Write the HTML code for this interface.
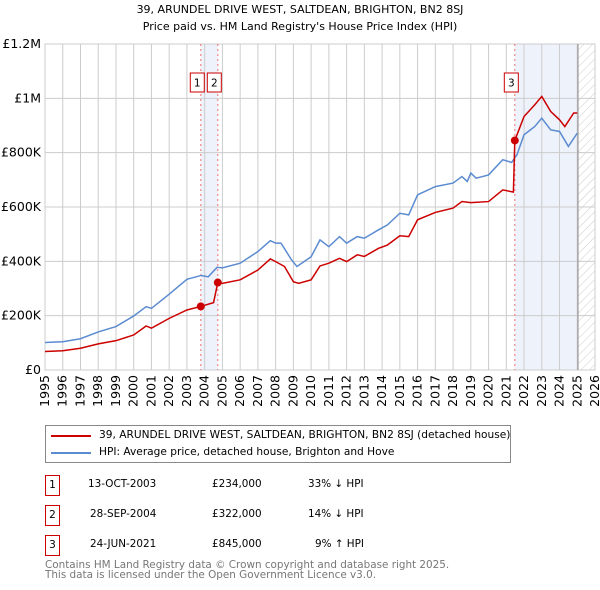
<!DOCTYPE html>
<html><head><meta charset="utf-8"><style>
body{margin:0;background:#fff;font-family:"DejaVu Sans","Liberation Sans",sans-serif;}
#wrap{position:relative;width:600px;height:590px;overflow:hidden;}
.t{position:absolute;font-size:10.4px;color:#000;white-space:nowrap;}
.box{position:absolute;width:13px;height:19px;border:1px solid #c00;font-size:10.5px;text-align:center;line-height:19px;}
</style></head><body><div id="wrap">
<div class="t" style="left:0;width:600px;text-align:center;top:3px;font-size:11px">39, ARUNDEL DRIVE WEST, SALTDEAN, BRIGHTON, BN2 8SJ</div>
<div class="t" style="left:0;width:600px;text-align:center;top:20px;font-size:11px">Price paid vs. HM Land Registry's House Price Index (HPI)</div>
<svg id="svg" width="600" height="420" style="position:absolute;left:0;top:0"></svg>
<div style="position:absolute;left:45px;top:425px;width:464px;height:36px;border:1px solid #888;">
 <div><div style="position:absolute;left:5px;top:9px;width:40px;height:2px;background:#c00"></div><div class="t" style="left:53px;top:3px;font-size:10.6px">39, ARUNDEL DRIVE WEST, SALTDEAN, BRIGHTON, BN2 8SJ (detached house)</div></div>
 <div><div style="position:absolute;left:5px;top:26px;width:40px;height:2px;background:#5b8bd0"></div><div class="t" style="left:53px;top:20px;font-size:10.6px">HPI: Average price, detached house, Brighton and Hove</div></div>
</div>
<div><div class="box" style="left:45px;top:475px">1</div><div class="t" style="left:88px;top:478px">13-OCT-2003</div><div class="t" style="left:212px;top:478px">£234,000</div><div class="t" style="left:308px;top:478px">33% ↓ HPI</div></div>
<div><div class="box" style="left:45px;top:505px">2</div><div class="t" style="left:90px;top:508px">28-SEP-2004</div><div class="t" style="left:212px;top:508px">£322,000</div><div class="t" style="left:308px;top:508px">14% ↓ HPI</div></div>
<div><div class="box" style="left:45px;top:535px">3</div><div class="t" style="left:90px;top:538px">24-JUN-2021</div><div class="t" style="left:212px;top:538px">£845,000</div><div class="t" style="left:315px;top:538px">9% ↑ HPI</div></div>
<div class="t" style="left:45px;top:560px;color:#777;font-size:10.4px;line-height:10px">Contains HM Land Registry data © Crown copyright and database right 2025.<br>This data is licensed under the Open Government Licence v3.0.</div>
</div>
<script>
const hpiYears=[1995,1996,1997,1998,1999,2000,2000.7,2001,2002,2003,2003.8,2004.2,2004.7,2005,2006,2007,2007.7,2008,2008.3,2008.9,2009.2,2010,2010.5,2011,2011.6,2012,2012.6,2013,2013.8,2014.3,2015,2015.5,2016,2017,2018,2018.5,2018.8,2019,2019.3,2020,2020.8,2021.3,2021.6,2022,2022.6,2023,2023.5,2024,2024.5,2025];
const hpiValues=[101,104,115,140,160,199,233,227,279,334,348,343,378,376,393,436,476,467,467,405,381,417,479,454,491,467,491,485,516,534,577,571,645,675,688,712,694,725,706,718,774,764,792,866,896,927,884,878,823,872];
const redYears=[1995,1996,1997,1998,1999,2000,2000.7,2001,2002,2003,2003.78,2004.5,2004.74,2005,2006,2007,2007.7,2008,2008.5,2009,2009.3,2010,2010.5,2011,2011.6,2012,2012.6,2013,2013.8,2014.3,2015,2015.5,2016,2017,2018,2018.5,2019,2020,2020.8,2021.4,2021.48,2022,2022.6,2023,2023.5,2024,2024.3,2024.8,2025];
const redValues=[68,71,80,96,108,129,162,154,190,221,234,248,322,319,332,368,409,399,381,325,319,332,383,393,411,399,424,418,448,460,494,491,553,580,596,620,616,620,663,655,845,933,976,1007,952,921,896,946,946];
const saleYears=[2003.78,2004.74,2021.48];
const saleValues=[234,322,845];
const saleLabels=["1","2","3"];
const yTicks=[0,200,400,600,800,1000,1200];
const yTickLabels=["£0","£200K","£400K","£600K","£800K","£1M","£1.2M"];
const xTicks=[];for(let y=1995;y<=2026;y++)xTicks.push(y);
const X0=45,X1=595,Y0=370,Y1=44;
const sx=y=>X0+(y-1995)/(2026-1995)*(X1-X0);
const sy=v=>Y0-v/1200*(Y0-Y1);
const svg=document.getElementById('svg');const NS='http://www.w3.org/2000/svg';
function mk(t,a,p){const e=document.createElementNS(NS,t);for(const k in a)e.setAttribute(k,a[k]);(p||svg).appendChild(e);return e;}
let r=mk('rect',{x:sx(saleYears[0]),y:Y1,width:sx(saleYears[1])-sx(saleYears[0]),height:Y0-Y1,fill:'#eef2fb'});


r=mk('rect',{x:sx(saleYears[2]),y:Y1,width:sx(2025.04)-sx(saleYears[2]),height:Y0-Y1,fill:'#eef2fb'});


const defs=mk('defs',{});const pat=mk('pattern',{id:'h',width:6,height:6,patternUnits:'userSpaceOnUse',patternTransform:'rotate(45)'},defs);mk('line',{x1:0,y1:0,x2:0,y2:6,stroke:'#ccc','stroke-width':1},pat);
r=mk('rect',{x:sx(2025.04),y:Y1,width:X1-sx(2025.04),height:Y0-Y1,fill:'url(#h)'});


yTicks.forEach((v,i)=>{mk('line',{x1:X0,x2:X1,y1:sy(v),y2:sy(v),stroke:'#ccc'});
 const t=mk('text',{x:X0-4,y:sy(v)+4,'text-anchor':'end','font-size':12.5,fill:'#000'});t.textContent=yTickLabels[i];
 
 });
xTicks.forEach(y=>{mk('line',{x1:sx(y),x2:sx(y),y1:Y1,y2:Y0,stroke:'#ccc'});
 const t=mk('text',{x:0,y:0,'text-anchor':'end','font-size':12.5,transform:`translate(${sx(y)+4},${Y0+5}) rotate(-90)`});t.textContent=y;
 
 });
mk('rect',{x:X0,y:Y1,width:X1-X0,height:Y0-Y1,fill:'none',stroke:'#ccc'});
mk('line',{x1:sx(2025.04),x2:sx(2025.04),y1:Y1,y2:Y0,stroke:'#999','stroke-width':1.2});
saleYears.forEach(y=>mk('line',{x1:sx(y),x2:sx(y),y1:Y1,y2:Y0,stroke:'#f07070','stroke-dasharray':'2,3'}));
let p=mk('polyline',{points:hpiYears.map((y,i)=>sx(y)+','+sy(hpiValues[i])).join(' '),fill:'none',stroke:'#5b8bd0','stroke-width':1.5});


p=mk('polyline',{points:redYears.map((y,i)=>sx(y)+','+sy(redValues[i])).join(' '),fill:'none',stroke:'#cc0000','stroke-width':1.5});


saleYears.forEach((y,i)=>{const c=mk('circle',{cx:sx(y),cy:sy(saleValues[i]),r:4,fill:'#cc0000'});
 
 
 const g=mk('g',{});
 
 
 const bx=sx(y)-3.5-7;
 mk('rect',{x:bx,y:73,width:14,height:19,fill:'#fff',stroke:'#c00'},g);
 const t=mk('text',{x:bx+7,y:86.5,'text-anchor':'middle','font-size':10.5},g);t.textContent=saleLabels[i];});
</script></body></html>
